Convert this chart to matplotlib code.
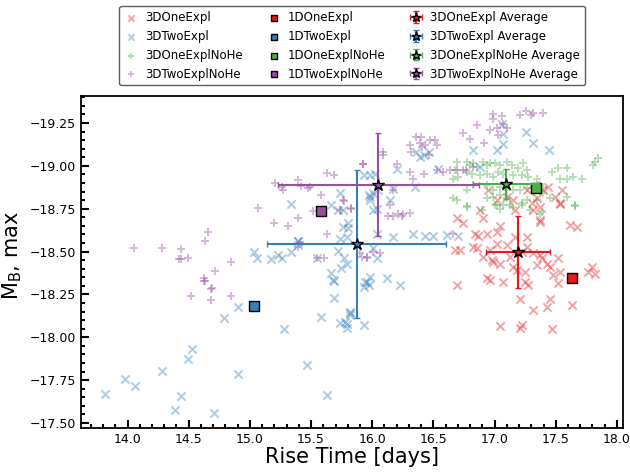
import matplotlib
matplotlib.use('Agg')
import matplotlib.pyplot as plt
from matplotlib.ticker import MultipleLocator
import numpy as np

# ----------------------------------------------------------------------------------------------------------------------
# 3D models: rise time [days], peak B magnitude
one_x = [16.69, 16.744, 16.881, 16.908, 16.949, 17.017, 17.099, 17.153, 17.262, 17.303, 17.344, 17.371, 17.439, 17.494,
         17.535, 17.549, 17.617, 17.671, 17.371, 17.399, 16.84, 16.867, 16.935, 16.826, 16.853, 16.676, 16.717, 16.908,
         16.976, 16.99, 17.044, 17.017, 17.044, 17.017, 17.099, 17.153, 17.181, 17.249, 17.167, 17.262, 17.262, 17.317,
         17.371, 17.385, 17.426, 17.453, 17.521, 17.535, 17.48, 17.521, 17.794, 17.767, 17.821, 16.935, 16.962, 17.071,
         16.69, 17.208, 17.276, 17.453, 17.426, 17.311, 17.636, 17.044, 17.208, 17.221, 17.472, 17.249, 17.344, 17.126,
         17.221, 16.962, 17.371, 17.535, 17.317, 17.167]
one_y = [-18.693, -18.664, -18.742, -18.693, -18.858, -18.8, -18.819, -18.8, -18.858, -18.781, -18.81, -18.761, -18.877,
         -18.819, -18.781, -18.858, -18.654, -18.645, -18.674, -18.858, -18.605, -18.59, -18.605, -18.527, -18.518,
         -18.508, -18.512, -18.469, -18.45, -18.44, -18.43, -18.615, -18.648, -18.547, -18.537, -18.411, -18.392,
         -18.382, -18.586, -18.586, -18.527, -18.489, -18.479, -18.46, -18.43, -18.411, -18.46, -18.382, -18.362,
         -18.314, -18.411, -18.382, -18.372, -18.343, -18.333, -18.324, -18.304, -18.226, -18.304, -18.226, -18.178,
         -18.162, -18.187, -18.065, -18.057, -18.071, -18.046, -18.324, -18.421, -18.469, -18.498, -18.508, -18.683,
         -18.776, -18.741, -18.741]

two_x = [13.815, 13.98, 14.065, 14.28, 14.39, 14.44, 14.496, 14.523, 14.71, 14.90, 14.90, 14.79, 15.28, 15.47, 15.63,
         15.578, 15.687, 15.687, 15.736, 15.79, 15.82, 15.777, 15.335, 15.74, 15.66, 15.72, 15.76, 15.80, 15.80, 15.74,
         15.395, 15.035, 15.06, 15.17, 15.23, 15.26, 15.335, 15.55, 15.717, 15.77, 15.745, 15.79, 15.66, 15.68, 16.01,
         16.01, 15.98, 16.02, 15.98, 16.01, 16.04, 15.955, 15.98, 15.93, 15.97, 15.98, 16.05, 15.76, 15.79, 16.145,
         16.17, 16.20, 16.36, 16.42, 16.39, 16.46, 16.54, 16.35, 16.17, 16.04, 16.335, 16.43, 16.50, 16.61, 16.70,
         16.826, 17.02, 17.07, 17.07, 17.06, 17.26, 17.31, 17.445, 16.88, 16.04, 16.12, 16.226, 15.94, 15.97, 15.93,
         15.82, 15.82, 15.79, 15.93, 15.39, 15.39]
two_y = [-17.671, -17.756, -17.716, -17.805, -17.574, -17.656, -17.871, -17.93, -17.556, -17.786, -18.174, -18.11,
         -18.046, -17.836, -17.665, -18.116, -18.228, -18.33, -18.085, -18.052, -18.139, -18.09, -18.78, -18.844,
         -18.77, -18.74, -18.74, -18.664, -18.64, -18.576, -18.562, -18.498, -18.465, -18.454, -18.479, -18.465,
         -18.498, -18.465, -18.504, -18.46, -18.407, -18.43, -18.376, -18.337, -18.74, -18.84, -18.945, -18.955,
         -18.82, -18.518, -18.46, -18.323, -18.353, -18.945, -18.829, -18.80, -18.857, -18.644, -18.586, -18.80,
         -18.867, -18.984, -19.08, -19.062, -19.05, -19.08, -18.984, -18.877, -18.586, -18.605, -18.605, -18.59,
         -18.59, -18.596, -18.59, -19.09, -19.09, -19.13, -19.188, -19.246, -19.196, -19.136, -19.09, -18.994, -18.75,
         -18.347, -18.304, -18.323, -18.304, -18.294, -18.15, -18.13, -18.08, -18.07, -18.56, -18.54]

one_nohe_x = [16.69, 16.676, 16.663, 16.704, 16.772, 16.799, 16.826, 16.853, 16.908, 16.935, 16.962, 17.003, 17.044,
              17.099, 17.14, 17.194, 17.235, 17.262, 16.772, 16.813, 16.881, 16.935, 16.99, 17.03, 17.071, 17.153,
              17.221, 17.276, 17.344, 16.772, 16.826, 16.935, 16.99, 17.044, 17.099, 17.153, 17.208, 17.262, 17.317,
              17.399, 17.467, 17.521, 17.589, 17.535, 17.589, 17.644, 17.712, 17.807, 17.821, 17.848, 17.399, 17.453,
              17.589, 17.657, 16.663, 16.69, 16.772, 16.935, 17.017, 17.071, 17.153, 17.221, 17.262, 17.344, 17.371,
              17.289, 17.044, 17.099, 16.99, 16.894, 17.657, 16.772, 17.003, 17.044, 17.126, 17.221, 17.385]
one_nohe_y = [-19.023, -18.975, -18.926, -18.936, -19.023, -19.004, -19.014, -18.994, -19.023, -19.004, -19.014,
              -19.014, -19.004, -19.023, -19.004, -18.985, -19.014, -18.975, -18.965, -18.955, -18.946, -18.955,
              -18.936, -18.965, -18.955, -18.946, -18.946, -18.936, -18.926, -18.858, -18.887, -18.887, -18.858,
              -18.877, -18.858, -18.858, -18.858, -18.868, -18.848, -18.877, -18.965, -18.985, -18.985, -18.926,
              -18.926, -18.936, -18.926, -19.004, -19.023, -19.043, -18.839, -18.81, -18.819, -18.771, -18.81, -18.8,
              -18.761, -18.81, -18.771, -18.771, -18.761, -18.781, -18.8, -18.8, -18.722, -18.742, -18.829, -18.81,
              -18.819, -18.741, -18.765, -18.765, -18.77, -18.751, -18.77, -18.77, -18.731]

two_nohe_x = [14.278, 14.44, 14.42, 14.44, 14.496, 14.632, 14.66, 14.714, 14.632, 14.687, 14.845, 15.063, 15.20, 15.31,
              15.39, 15.204, 15.27, 15.26, 15.395, 15.42, 15.49, 15.477, 15.63, 15.687, 15.578, 15.77, 15.823, 15.518,
              15.63, 15.41, 15.395, 15.55, 15.605, 15.926, 15.913, 15.955, 14.626, 14.05, 14.518, 14.626, 14.684,
              14.684, 14.847, 16.09, 16.09, 15.926, 15.763, 15.83, 15.736, 16.17, 16.145, 16.13, 16.17, 16.21, 16.25,
              16.31, 16.24, 16.2, 16.31, 16.36, 16.40, 16.39, 16.43, 16.47, 16.51, 16.53, 16.32, 16.46, 16.41, 16.31,
              16.335, 16.42, 16.53, 16.58, 16.635, 16.69, 16.745, 16.744, 16.80, 16.854, 16.91, 16.96, 16.99, 17.017,
              17.03, 17.07, 17.10, 17.06, 16.99, 17.21, 17.257, 17.316, 17.393, 17.30, 16.826, 16.77, 16.66, 15.90,
              15.955, 16.01, 16.063]
two_nohe_y = [-18.522, -18.516, -18.456, -18.456, -18.465, -18.562, -18.615, -18.386, -18.328, -18.289, -18.44,
              -18.757, -18.664, -18.648, -18.693, -18.90, -18.862, -18.877, -18.916, -18.88, -18.877, -18.873, -18.96,
              -18.945, -18.83, -18.794, -18.755, -18.735, -18.605, -18.553, -18.527, -18.465, -18.46, -19.013, -18.47,
              -18.46, -18.343, -18.52, -18.242, -18.33, -18.279, -18.219, -18.242, -19.08, -19.062, -19.013, -18.80,
              -18.75, -18.74, -18.857, -18.77, -18.706, -18.706, -18.722, -18.718, -18.726, -18.706, -19.013, -19.12,
              -19.17, -19.17, -19.134, -19.12, -19.149, -19.149, -19.124, -19.08, -19.062, -19.11, -18.965, -18.926,
              -18.955, -18.974, -18.965, -18.974, -18.974, -18.974, -19.192, -19.159, -19.237, -19.134, -19.208,
              -19.305, -19.218, -19.18, -19.246, -19.218, -19.29, -19.275, -19.296, -19.318, -19.309, -19.309,
              -19.296, -18.994, -18.974, -18.6, -18.489, -18.47, -18.498, -18.492]

# 1D models
oned_names = ['1DOneExpl', '1DTwoExpl', '1DOneExplNoHe', '1DTwoExplNoHe']
oned_x = [17.635, 15.035, 17.339, 15.578]
oned_y = [-18.343, -18.184, -18.868, -18.735]

# averages of 3D models with spread
avg_names = ['3DOneExpl Average', '3DTwoExpl Average', '3DOneExplNoHe Average', '3DTwoExplNoHe Average']
avg_x = [17.19, 15.872, 17.094, 16.05]
avg_y = [-18.50, -18.545, -18.894, -18.889]
avg_xerr = [0.26, 0.73, 0.27, 0.82]
avg_yerr = [0.21, 0.43, 0.085, 0.30]

# ----------------------------------------------------------------------------------------------------------------------
colors = ['#e41a1c', '#377eb8', '#4daf4a', '#984ea3']

fig = plt.figure(figsize=(6.3, 4.74), dpi=100)
ax = fig.add_axes([0.1286, 0.097, 0.8604, 0.700])
for spine in ax.spines.values():
    spine.set_linewidth(1.3)

handles = []
sets = [(one_x, one_y, 'x', '3DOneExpl'), (two_x, two_y, 'x', '3DTwoExpl'),
        (one_nohe_x, one_nohe_y, '+', '3DOneExplNoHe'), (two_nohe_x, two_nohe_y, '+', '3DTwoExplNoHe')]
for (x, y, m, lab), c in zip(sets, colors):
    h = ax.scatter(x, y, marker=m, s=35, color=c, alpha=0.4, linewidths=1.4, label=lab)
    handles.append(h)

for i, c in enumerate(colors):
    h = ax.scatter(oned_x[i], oned_y[i], marker='s', s=45, color=c, edgecolors='black', linewidths=1.0,
                   label=oned_names[i], zorder=5)
    handles.append(h)

for i, c in enumerate(colors):
    h = ax.errorbar(avg_x[i], avg_y[i], xerr=avg_xerr[i], yerr=avg_yerr[i], fmt='*', color=c, ecolor=c,
                    markersize=9, markeredgecolor='black', markeredgewidth=1.0, elinewidth=1.5, capsize=2,
                    capthick=1.2, label=avg_names[i], zorder=6)
    handles.append(h)

ax.set_xlim(13.62, 18.05)
ax.set_ylim(-17.471, -19.406)
ax.xaxis.set_major_locator(MultipleLocator(0.5))
ax.xaxis.set_minor_locator(MultipleLocator(0.1))
ax.yaxis.set_major_locator(MultipleLocator(0.25))
ax.yaxis.set_minor_locator(MultipleLocator(0.05))
ax.tick_params(which='major', direction='in', length=5.5, width=1.5, labelsize=9)
ax.tick_params(which='minor', direction='in', length=3, width=1.5)

ax.set_xlabel('Rise Time [days]', fontsize=15, labelpad=1)
ax.set_ylabel(r'M$_\mathrm{B}$, max', fontsize=15)
ax.yaxis.set_label_coords(-0.105, 0.52)

leg = ax.legend(handles=handles, ncol=3, loc='lower center', bbox_to_anchor=(0.5, 1.033), borderaxespad=0,
                fontsize=8.5, handlelength=1.2, handletextpad=0.6, columnspacing=2.0, labelspacing=0.5,
                borderpad=0.4, markerscale=0.75)
leg.get_frame().set_edgecolor('0.2')

plt.savefig('out.png', dpi=100)
